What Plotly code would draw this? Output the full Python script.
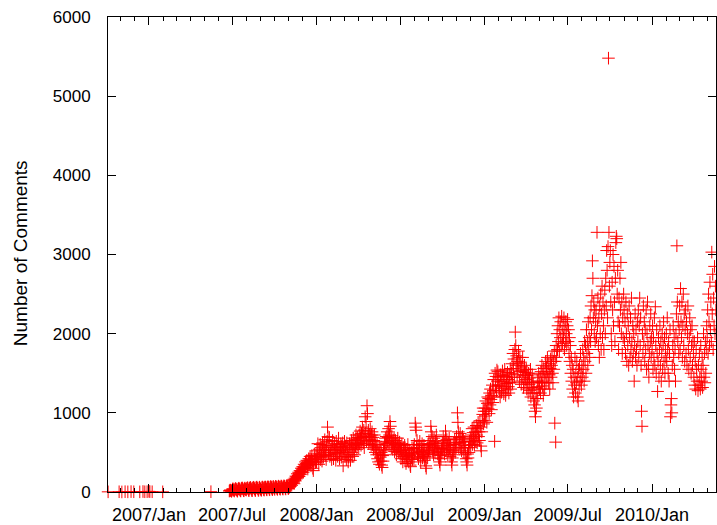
import pandas as pd
import plotly.graph_objects as go

# ---- sparse early points (date, comments) ----
early_dates = ["2006-10-04", "2006-10-28", "2006-11-03", "2006-11-10", "2006-11-16",
               "2006-11-23", "2006-11-29", "2006-12-12", "2006-12-19", "2006-12-23",
               "2006-12-28", "2007-01-01", "2007-01-03", "2007-01-08", "2007-01-31",
               "2007-05-16"]
early_vals = [2, 3, 1, 4, 2, 5, 3, 2, 6, 3, 4, 8, 5, 3, 2, 4]

# ---- daily values, consecutive days ----
start_2007 = "2007-06-25"
vals_2007 = [
    12, 18, 25, 20, 15, 8,
    22, 35, 41, 28, 19, 12, 30, 38, 45, 33, 27, 14, 11, 36, 42, 48, 39, 30, 16, 13, 40, 47, 52, 44, 35, 18, 15, 43, 50, 38, 29,
    25, 45, 50, 55, 41, 22, 18, 46, 53, 58, 49, 37, 20, 17, 48, 56, 60, 51, 40, 23, 19, 52, 57, 62, 50, 44, 24, 21, 54, 61, 47,
    38, 26, 22, 55, 63, 58, 49, 30, 24, 57, 64, 60, 52, 33, 27, 59, 66, 62, 55, 36, 28, 61, 68, 65, 56, 38, 30, 63, 70, 58,
    45, 33, 60, 72, 67, 58, 40, 34, 62, 74, 69, 61, 42, 35, 64, 76, 71, 63, 44, 37, 66, 78, 73, 65, 46, 38, 68, 80, 75, 67, 48,
    45, 72, 60, 88, 70, 95, 120, 85, 110, 140, 125, 160, 105, 150, 175, 140, 200, 165, 190, 230, 180, 210, 250, 195, 240, 270, 220, 260, 300, 245,
    280, 320, 250, 300, 350, 290, 340, 380, 310, 360, 400, 330, 290, 370, 420, 350, 390, 450, 380, 330, 410, 460, 390, 300, 270, 350, 430, 480, 410, 370, 450,
]

start_2008 = "2008-01-01"
vals_2008 = [
    380, 520, 450, 610, 430, 350, 540, 480, 600, 410, 560, 470, 390, 620, 520, 440, 580, 500, 660, 460, 530, 410, 590, 640, 820, 700, 480, 560, 690, 450, 530,
    470, 590, 410, 540, 650, 500, 420, 560, 610, 480, 530, 400, 640, 500, 570, 450, 600, 680, 490, 420, 560, 520, 610, 440, 580, 500, 620, 330, 540,
    520, 640, 450, 580, 500, 410, 620, 560, 470, 380, 440, 540, 610, 470, 400, 560, 650, 500, 590, 450, 680, 540, 600, 470, 660, 580, 720, 620, 540, 690, 600,
    650, 560, 720, 610, 770, 680, 590, 740, 650, 820, 700, 620, 780, 560, 690, 950, 740, 890, 640, 1090, 990, 700, 780, 610, 730, 660, 800, 690, 590, 720,
    760, 600, 690, 540, 650, 720, 580, 500, 640, 560, 470, 600, 420, 530, 380, 480, 350, 560, 440, 390, 500, 340, 310, 460, 390, 540, 470, 620, 520, 680, 590,
    700, 610, 760, 640, 690, 800, 620, 720, 890, 830, 670, 560, 710, 620, 540, 650, 580, 690, 510, 600, 650, 540, 470, 610, 560, 680, 500, 590, 520, 630,
    480, 560, 420, 530, 610, 450, 380, 500, 560, 430, 590, 470, 520, 360, 450, 540, 410, 600, 480, 380, 530, 460, 340, 320, 500, 440, 560, 410, 490, 550, 430,
    600, 480, 870, 820, 780, 560, 650, 470, 530, 420, 590, 510, 640, 450, 380, 560, 500, 610, 430, 540, 470, 590, 400, 520, 450, 330, 300, 480, 560, 430, 600,
    520, 650, 560, 480, 610, 830, 760, 580, 700, 520, 620, 470, 680, 560, 500, 640, 590, 720, 540, 610, 480, 560, 430, 510, 380, 340, 460, 420, 550, 500,
    620, 530, 700, 580, 650, 480, 610, 770, 700, 540, 660, 590, 470, 630, 520, 680, 560, 450, 590, 500, 380, 340, 430, 520, 470, 600, 540, 660, 500, 620, 560,
    700, 620, 1000, 880, 760, 560, 690, 620, 740, 560, 680, 520, 630, 700, 560, 660, 500, 590, 640, 470, 560, 420, 380, 340, 480, 430, 560, 500, 640, 590,
    680, 560, 720, 640, 800, 600, 750, 680, 820, 590, 700, 760, 650, 840, 720, 620, 800, 880, 700, 760, 650, 900, 820, 580, 520, 760, 900, 980, 1060, 860, 1020,
]

start_2009 = "2009-01-01"
vals_2009 = [
    900, 1060, 960, 1150, 1020, 880, 1120, 1200, 1050, 1180, 990, 1250, 1100, 1300, 1170, 1040, 1220, 1350, 1130, 1280, 1420, 1200, 640, 1500, 1330, 1460, 1280, 1540, 1400, 1520, 1350,
    1450, 1280, 1350, 1200, 1480, 1390, 1260, 1420, 1530, 1310, 1470, 1240, 1400, 1550, 1330, 1220, 1460, 1370, 1290, 1510, 1420, 1330, 1250, 1480, 1380, 1560, 1300, 1450,
    1500, 1620, 1380, 1750, 1560, 1680, 1450, 1800, 2020, 1850, 1600, 1720, 1480, 1650, 1540, 1780, 1620, 1400, 1700, 1520, 1640, 1360, 1580, 1450, 1700, 1530, 1320, 1480, 1600, 1380, 1510,
    1420, 1550, 1300, 1470, 1380, 1250, 1500, 1360, 1440, 1280, 1550, 1200, 1400, 1320, 1480, 1250, 1380, 1150, 1300, 1100, 1020, 950, 1180, 1060, 1250, 1400, 1180, 1330, 1500, 1380,
    1300, 1450, 1250, 1520, 1380, 1600, 1340, 1480, 1220, 1560, 1400, 1300, 1500, 1650, 1380, 1580, 1450, 1700, 1520, 1380, 1620, 1480, 1300, 1560, 1680, 1450, 1600, 1720, 1500, 1380, 1650,
    1550, 1780, 870, 1650, 630, 1850, 1700, 2000, 1800, 2100, 1900, 2200, 1780, 2050, 1950, 2150, 1850, 2220, 2000, 1880, 2100, 1950, 2200, 1800, 2050, 1900, 2150, 2000, 1850, 2100,
    2180, 1900, 2050, 1750, 1950, 1650, 1850, 1500, 1700, 1400, 1600, 1300, 1550, 1200, 1450, 1350, 1700, 1250, 1500, 1380, 1650, 1200, 1450, 1150, 1550, 1300, 1600, 1400, 1750, 1500, 1350,
    1600, 1450, 1800, 1550, 1700, 1400, 1900, 1650, 1850, 1500, 2050, 1750, 1900, 1600, 2150, 1800, 1950, 1700, 2200, 1900, 2350, 2050, 2480, 2920, 2700, 2200, 2400, 2000, 2300, 1900, 2150,
    2300, 1950, 3280, 2100, 2450, 1850, 2200, 1700, 2350, 2000, 2500, 1800, 2250, 2600, 1950, 2400, 2100, 1800, 2300, 2550, 2000, 2700, 2350, 3050, 2800, 2200, 3100, 5480, 3280, 2600,
    2900, 3050, 2400, 2000, 1850, 2650, 2300, 3000, 2100, 2850, 2400, 1900, 2700, 3150, 3230, 3200, 2500, 2800, 2150, 1800, 2450, 2100, 2700, 2300, 2900, 2000, 2400, 1750, 2200, 1950, 2500,
    2300, 1900, 2150, 1750, 2400, 2000, 1650, 2250, 1850, 2100, 1600, 2350, 1950, 1700, 2200, 1800, 2450, 1900, 1650, 2100, 1750, 2000, 1400, 1850, 2250, 1700, 2050, 1800, 1600, 2150,
    1900, 2300, 1700, 2100, 2450, 1850, 2200, 1600, 1020, 830, 2000, 1750, 2350, 1900, 2150, 1650, 2050, 1800, 2300, 1550, 2000, 2400, 1850, 1600, 1450, 1750, 2100, 1900, 2250, 1700, 1950,
]

start_2010 = "2010-01-01"
vals_2010 = [
    1800, 2100, 1550, 1950, 1700, 2200, 1600, 2340, 1850, 1500, 2050, 1750, 1270, 1650, 1950, 1450, 1800, 2100, 1600, 1900, 1400, 1750, 2000, 1550, 1850, 2150, 1650, 1950, 1500, 1800, 1700,
    2000, 1650, 2200, 1800, 1500, 1900, 1400, 1750, 2050, 950, 1100, 1180, 1000, 1600, 1850, 2100, 1700, 1950, 1550, 1800, 1400, 2000, 2250, 3110, 2400, 1900, 2150, 1750,
    2050, 2350, 1800, 2570, 2150, 1950, 2400, 1700, 2100, 2500, 1850, 2250, 1650, 2050, 2300, 1750, 2150, 1600, 2000, 2350, 1800, 1550, 1950, 2200, 1700, 2050, 1500, 1850, 2100, 1600, 1900,
    1750, 1450, 1900, 1350, 1650, 1300, 1800, 1550, 1400, 1950, 1280, 1600, 1350, 1750, 1450, 1300, 1850, 1550, 1400, 1700, 1320, 1600, 2000, 1450, 1750, 1380, 1900, 1500, 1800, 2100,
    1950, 2300, 1750, 2500, 2150, 1850, 2650, 2050, 2400, 1900, 3030, 2250, 2750, 1800, 2450, 2100, 2850, 2000, 2600, 2300,
]

x_tick_labels = ["2007/Jan", "2007/Jul", "2008/Jan", "2008/Jul", "2009/Jan", "2009/Jul", "2010/Jan"]
x_tick_dates = ["2007-01-01", "2007-07-01", "2008-01-01", "2008-07-01", "2009-01-01", "2009-07-01", "2010-01-01"]
y_title = "Number of Comments"

# ---- assemble ----
xs = list(pd.to_datetime(early_dates))
ys = list(early_vals)
for start, vals in [(start_2007, vals_2007), (start_2008, vals_2008),
                    (start_2009, vals_2009), (start_2010, vals_2010)]:
    xs += list(pd.date_range(start, periods=len(vals), freq="D"))
    ys += vals

minor_ticks = [d.strftime("%Y-%m-%d") for d in pd.date_range("2006-11-01", "2010-05-01", freq="MS")]

FONT = "Liberation Sans, Arial, Helvetica, sans-serif"

fig = go.Figure()
fig.add_trace(go.Scatter(
    x=xs, y=ys, mode="markers", cliponaxis=False, showlegend=False,
    marker=dict(symbol="cross-thin", size=9, color="red",
                line=dict(color="rgb(255,0,0)", width=1)),
))

fig.update_layout(
    width=717, height=525,
    margin=dict(l=108, r=0, t=17, b=31),
    paper_bgcolor="white", plot_bgcolor="white",
    font=dict(family=FONT, size=17, color="black"),
    xaxis=dict(
        type="date",
        range=["2006-10-03 19:00", "2010-05-20 05:00"],
        tickmode="array", tickvals=x_tick_dates, ticktext=x_tick_labels,
        ticks="inside", ticklen=8, tickwidth=1, tickcolor="black",
        showline=True, linecolor="black", linewidth=1, mirror="ticks",
        showgrid=False, zeroline=False,
        tickfont=dict(family=FONT, size=18, color="black"),
        ticklabelstandoff=6,
        minor=dict(tickvals=minor_ticks, ticks="inside", ticklen=4,
                   tickcolor="black", tickwidth=1, showgrid=False),
    ),
    yaxis=dict(
        range=[0, 6000], tickmode="linear", tick0=0, dtick=1000,
        ticks="inside", ticklen=8, tickwidth=1, tickcolor="black",
        showline=True, linecolor="black", linewidth=1, mirror="ticks",
        showgrid=False, zeroline=False,
        tickfont=dict(family=FONT, size=17, color="black"),
        ticklabelstandoff=13,
    ),
    annotations=[dict(
        text=y_title, textangle=-90, showarrow=False,
        xref="paper", yref="paper", x=-88 / 609, y=0.503,
        xanchor="center", yanchor="middle",
        font=dict(family=FONT, size=19, color="black"),
    )],
)

fig.write_html("out.html",
               config={"displayModeBar": False},
               post_script="document.body.style.margin='0px';document.body.style.overflow='hidden';")
